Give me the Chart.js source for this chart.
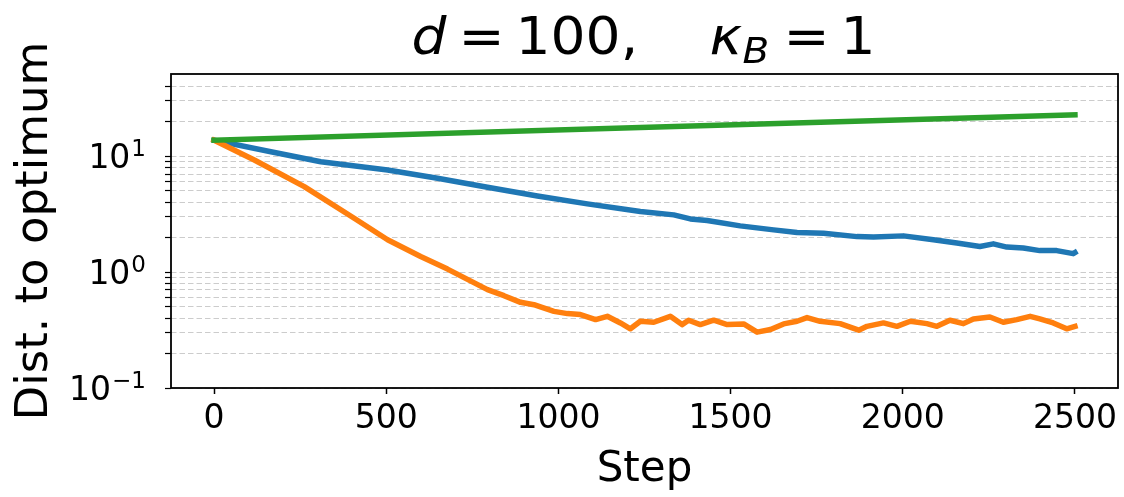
<!DOCTYPE html>
<html>
<head>
<meta charset="utf-8">
<script src="https://cdn.jsdelivr.net/npm/chart.js@4.4.1/dist/chart.umd.min.js"></script>
<style>
  html, body { margin: 0; padding: 0; background: #fff; }
  #wrap { width: 1124px; height: 497px; }
</style>
</head>
<body>
<div id="wrap"><canvas id="distChart" width="1124" height="497"></canvas></div>
<script>
// Valeurs (axe y logarithmique)
const xTicks = [0, 500, 1000, 1500, 2000, 2500];
const yTicks = [0.1, 0.2, 0.3, 0.4, 0.5, 0.6, 0.7, 0.8, 0.9,
                1, 2, 3, 4, 5, 6, 7, 8, 9,
                10, 20, 30, 40];
const yDecades = [0.1, 1, 10];
const yExponents = ["\u22121", "0", "1"];

const blueSteps = [0, 165, 310, 504, 649, 794, 939, 1084, 1238, 1335, 1383, 1432, 1528, 1625, 1693,
                   1770, 1867, 1915, 2002, 2089, 2157, 2224, 2263, 2302, 2350, 2398, 2447, 2495, 2500];
const blueDist = [13.7, 10.9, 8.93, 7.58, 6.43, 5.38, 4.53, 3.87, 3.32, 3.11, 2.87, 2.78, 2.50, 2.31, 2.19,
                  2.16, 2.02, 2.0, 2.05, 1.90, 1.78, 1.66, 1.75, 1.64, 1.61, 1.53, 1.53, 1.44, 1.47];

const orangeSteps = [0, 117, 262, 407, 504, 600, 678, 794, 842, 890, 929, 948, 987, 1026, 1064, 1108,
                     1142, 1180, 1209, 1238, 1277, 1325, 1359, 1378, 1412, 1451, 1490, 1538, 1577, 1616,
                     1654, 1693, 1722, 1760, 1818, 1872, 1896, 1944, 1983, 2022, 2070, 2099, 2137, 2176,
                     2205, 2253, 2292, 2331, 2370, 2398, 2437, 2476, 2500];
const orangeDist = [13.7, 9.24, 5.45, 2.91, 1.90, 1.36, 1.06, 0.705, 0.625, 0.548, 0.523, 0.50, 0.458, 0.438,
                    0.43, 0.389, 0.415, 0.364, 0.324, 0.376, 0.369, 0.415, 0.352, 0.384, 0.352, 0.384, 0.352,
                    0.357, 0.303, 0.319, 0.357, 0.376, 0.405, 0.376, 0.359, 0.315, 0.34, 0.364, 0.34, 0.376,
                    0.359, 0.34, 0.384, 0.359, 0.394, 0.41, 0.369, 0.389, 0.415, 0.394, 0.364, 0.324, 0.34];

const greenSteps = [0, 1238, 2500];
const greenDist = [13.7, 17.65, 22.7];

function toPoints(xs, ys) {
    return xs.map((x, i) => ({ x: x, y: ys[i] }));
}

const FONT = '"DejaVu Sans", sans-serif';

// Titre en style mathtext : d = 100,  kappa_B = 1
const titlePlugin = {
    id: "mathTitle",
    afterDraw(chart) {
        const ctx = chart.ctx;
        const area = chart.chartArea;
        const cx = (area.left + area.right) / 2;
        const F = 51;
        const base = 54;
        const parts = [
            { t: "d", dx: -233, font: `italic ${F}px ${FONT}`, y: base },
            { t: "=", dx: -186, font: `${F}px ${FONT}`, y: base },
            { t: "100,", dx: -129, font: `${F}px ${FONT}`, y: base },
            { t: "\u03BA", dx: 65, font: `italic ${F}px ${FONT}`, y: base },
            { t: "B", dx: 98, font: `italic ${Math.round(F * 0.7)}px ${FONT}`, y: base + 9 },
            { t: "=", dx: 139, font: `${F}px ${FONT}`, y: base },
            { t: "1", dx: 196, font: `${F}px ${FONT}`, y: base }
        ];
        ctx.save();
        ctx.fillStyle = "#000";
        ctx.textAlign = "left";
        ctx.textBaseline = "alphabetic";
        parts.forEach(p => {
            ctx.save();
            ctx.font = p.font;
            ctx.translate(cx + p.dx, p.y);
            ctx.scale(1.08, 1);
            ctx.fillText(p.t, 0, 0);
            ctx.restore();
        });
        ctx.restore();
    }
};

// Étiquettes 10^k de l'axe y, avec exposant surélevé
const yLabelPlugin = {
    id: "yPowerLabels",
    afterDraw(chart) {
        const ctx = chart.ctx;
        const yScale = chart.scales.y;
        const right = chart.chartArea.left - 25;
        ctx.save();
        ctx.fillStyle = "#000";
        ctx.textAlign = "right";
        ctx.textBaseline = "alphabetic";
        yDecades.forEach((v, i) => {
            const py = yScale.getPixelForValue(v);
            ctx.font = `23px ${FONT}`;
            const ew = ctx.measureText(yExponents[i]).width;
            ctx.fillText(yExponents[i], right, py - 0.5);
            ctx.font = `33px ${FONT}`;
            ctx.fillText("10", right - ew - 1, py + 12);
        });
        ctx.restore();
    }
};

// Cadre noir sur les quatre côtés
const framePlugin = {
    id: "frame",
    afterDatasetsDraw(chart) {
        const { ctx, chartArea: a } = chart;
        ctx.save();
        ctx.strokeStyle = "#000";
        ctx.lineWidth = 1.8;
        ctx.strokeRect(a.left, a.top, a.right - a.left, a.bottom - a.top);
        ctx.restore();
    }
};

const lineStyle = {
    borderWidth: 5.5,
    pointRadius: 0,
    tension: 0,
    fill: false,
    borderCapStyle: "square",
    borderJoinStyle: "round"
};

const ctx = document.getElementById("distChart").getContext("2d");
new Chart(ctx, {
    type: "line",
    data: {
        datasets: [
            Object.assign({ data: toPoints(blueSteps, blueDist), borderColor: "#1f77b4", order: 3 }, lineStyle),
            Object.assign({ data: toPoints(orangeSteps, orangeDist), borderColor: "#ff7f0e", order: 2 }, lineStyle),
            Object.assign({ data: toPoints(greenSteps, greenDist), borderColor: "#2ca02c", order: 1 }, lineStyle)
        ]
    },
    options: {
        responsive: false,
        animation: false,
        layout: { padding: { top: 74, right: 6, bottom: 0, left: 0 } },
        plugins: {
            legend: { display: false },
            tooltip: { enabled: false },
            title: { display: false }
        },
        scales: {
            x: {
                type: "linear",
                min: -125,
                max: 2625,
                afterBuildTicks: scale => { scale.ticks = xTicks.map(v => ({ value: v })); },
                afterFit: scale => { scale.height = 109; },
                grid: { drawOnChartArea: false, drawTicks: true, tickLength: 6, tickColor: "#000", tickWidth: 1.5 },
                border: { display: false },
                ticks: { color: "#000", padding: 6, maxRotation: 0, autoSkip: false,
                         font: { family: FONT, size: 33 },
                         callback: value => String(value) },
                title: { display: true, text: "Step", color: "#000",
                         font: { family: FONT, size: 42, lineHeight: 1.2 }, padding: { top: 0, bottom: 2 } }
            },
            y: {
                type: "logarithmic",
                min: 0.1,
                max: 51,
                afterBuildTicks: scale => { scale.ticks = yTicks.map(v => ({ value: v })); },
                afterFit: scale => { scale.width = 171; },
                grid: {
                    drawOnChartArea: true,
                    drawTicks: true,
                    tickLength: 6,
                    color: "rgba(0,0,0,0.2)",
                    lineWidth: 1,
                    tickColor: "#000",
                    tickWidth: 1.2
                },
                border: { display: false, dash: [5.5, 3] },
                ticks: {
                    color: "#000",
                    padding: 19,
                    autoSkip: false,
                    font: { family: FONT, size: 33 },
                    callback: () => ""
                },
                title: { display: true, text: "Dist. to optimum", color: "#000",
                         font: { family: FONT, size: 45, lineHeight: 1.2 }, padding: { top: 8, bottom: 0 } }
            }
        }
    },
    plugins: [titlePlugin, yLabelPlugin, framePlugin]
});
</script>
</body>
</html>
